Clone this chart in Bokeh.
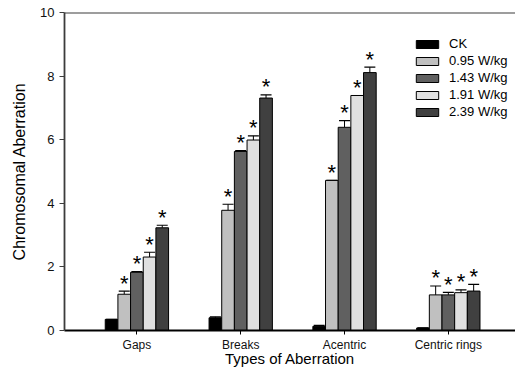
import numpy as np
from bokeh.plotting import figure
from bokeh.models import (ColumnDataSource, Range1d, FixedTicker, Span, Whisker,
                          TeeHead, Legend, LegendItem)
from bokeh.core.properties import value
from bokeh.embed import file_html
from bokeh.resources import INLINE

categories = ["Gaps", "Breaks", "Acentric", "Centric rings"]
series = ["CK", "0.95 W/kg", "1.43 W/kg", "1.91 W/kg", "2.39 W/kg"]
colors = ["#000000", "#c0c0c0", "#606060", "#e0e0e0", "#404040"]

ck = [0.35, 0.40, 0.13, 0.08]
w095 = [1.14, 3.78, 4.72, 1.12]
w143 = [1.83, 5.63, 6.39, 1.12]
w191 = [2.31, 5.99, 7.39, 1.19]
w239 = [3.23, 7.31, 8.11, 1.24]

ck_err = [0.0, 0.03, 0.03, 0.0]
w095_err = [0.10, 0.19, 0.0, 0.28]
w143_err = [0.02, 0.03, 0.21, 0.08]
w191_err = [0.15, 0.13, 0.0, 0.09]
w239_err = [0.08, 0.10, 0.17, 0.21]

significant = [False, True, True, True, True]

y_ticks = [0, 2, 4, 6, 8, 10]

values = [ck, w095, w143, w191, w239]
errors = [ck_err, w095_err, w143_err, w191_err, w239_err]

FONT = "Liberation Sans"
bar_w = 0.122

p = figure(width=515, height=369, output_backend="svg", toolbar_location=None,
           x_range=Range1d(-0.6975, 3.647), y_range=Range1d(0, 10),
           min_border_left=64, min_border_right=0, min_border_top=12,
           min_border_bottom=39)
p.outline_line_color = None
p.xgrid.visible = False
p.ygrid.visible = False
p.background_fill_color = "white"

idx = np.arange(len(categories))
items = []
for i, (name, col) in enumerate(zip(series, colors)):
    xs = idx + (i - 2) * bar_w
    v = np.array(values[i])
    e = np.array(errors[i])
    src = ColumnDataSource(dict(x=xs, top=v, up=v + e,
                                star=["*" if significant[i] else ""] * len(v)))
    r = p.vbar(x="x", top="top", width=bar_w, source=src, fill_color=col,
               line_color="black", line_width=1)
    items.append(LegendItem(label=name, renderers=[r]))
    w = Whisker(base="x", lower="top", upper="up", source=src, dimension="height",
                line_color="black", line_width=1, lower_head=None,
                upper_head=TeeHead(size=11, line_color="black", line_width=1.2))
    p.add_layout(w)
    p.text(x="x", y="up", text="star", source=src, text_align="center",
           text_baseline="alphabetic", y_offset=-8, text_font=value(FONT),
           text_font_size="22px", text_color="black")

p.add_layout(Span(location=10, dimension="width", line_color="#3c3c3c", line_width=1.8))

legend = Legend(items=items, location=(349, 211), padding=0, margin=0,
                spacing=2, glyph_width=28, glyph_height=10, label_height=11,
                label_standoff=8, label_text_font=FONT, label_text_font_size="13px",
                label_text_color="black",
                border_line_color=None, background_fill_alpha=0)
p.add_layout(legend)

p.yaxis.ticker = FixedTicker(ticks=y_ticks)
p.yaxis.axis_label = "Chromosomal Aberration"
p.yaxis.axis_label_text_font = FONT
p.yaxis.axis_label_text_font_style = "normal"
p.yaxis.axis_label_text_font_size = "16px"
p.yaxis.axis_label_text_color = "black"
p.yaxis.axis_label_standoff = 9
p.yaxis.major_label_text_font = FONT
p.yaxis.major_label_text_font_size = "13px"
p.yaxis.major_label_standoff = 5
p.yaxis.major_tick_out = 5
p.yaxis.major_tick_in = 0
p.yaxis.minor_tick_line_color = None
p.yaxis.axis_line_color = "#3c3c3c"
p.yaxis.axis_line_width = 1.8
p.yaxis.major_tick_line_color = "#3c3c3c"
p.yaxis.major_label_text_color = "#111111"

p.xaxis.ticker = FixedTicker(ticks=list(idx))
p.xaxis.major_label_overrides = {int(i): c for i, c in enumerate(categories)}
p.xaxis.axis_label = "Types of Aberration"
p.xaxis.axis_label_text_font = FONT
p.xaxis.axis_label_text_font_style = "normal"
p.xaxis.axis_label_text_font_size = "15px"
p.xaxis.axis_label_text_color = "black"
p.xaxis.axis_label_standoff = -5
p.xaxis.major_label_text_font = FONT
p.xaxis.major_label_text_font_size = "12px"
p.xaxis.major_label_standoff = 3
p.xaxis.major_tick_out = 4
p.xaxis.major_tick_in = 0
p.xaxis.minor_tick_line_color = None
p.xaxis.axis_line_color = "black"
p.xaxis.axis_line_width = 1.8
p.xaxis.major_tick_line_color = "black"
p.xaxis.major_label_text_color = "#111111"

open("out.html", "w").write(file_html(p, INLINE))
